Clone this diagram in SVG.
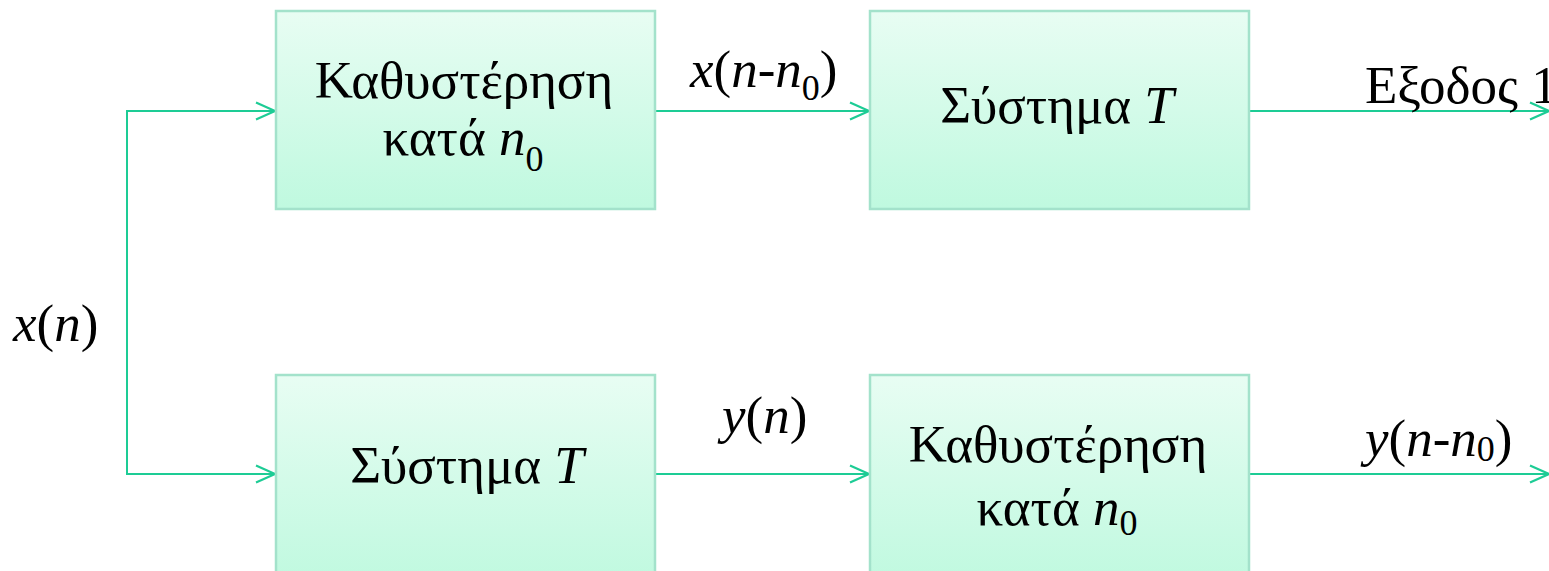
<svg xmlns="http://www.w3.org/2000/svg" width="1549" height="571" viewBox="0 0 1549 571">
<defs>
<linearGradient id="g" x1="0" y1="0" x2="0" y2="1">
<stop offset="0" stop-color="#e8fdf3"/>
<stop offset="1" stop-color="#bff9df"/>
</linearGradient>
<marker id="a" markerWidth="24" markerHeight="22" refX="21" refY="11" orient="auto" markerUnits="userSpaceOnUse">
<path d="M2,2.5 L21,11 L2,19.5" fill="none" stroke="#1dcc95" stroke-width="2.2"/>
</marker>
<style>
.box{fill:url(#g);stroke:#a3e2cb;stroke-width:2.5}
text{font-family:'Liberation Serif','DejaVu Serif',serif;fill:#000}
.t{font-size:53px;text-anchor:middle}
.l{font-size:53px}
.s{font-size:36px}
.w{fill:none;stroke:#1dcc95;stroke-width:2}
</style>
</defs>
<rect width="1549" height="571" fill="#fff"/>
<g id="connectors">
<polyline class="w" points="275,111 127,111 127,474 275,474" marker-end="url(#a)"/>
<line class="w" x1="127" y1="111" x2="275" y2="111" marker-end="url(#a)"/>
<line class="w" x1="655" y1="111" x2="869" y2="111" marker-end="url(#a)"/>
<line class="w" x1="1249" y1="111" x2="1549" y2="111" marker-end="url(#a)"/>
<line class="w" x1="655" y1="474" x2="869" y2="474" marker-end="url(#a)"/>
<line class="w" x1="1249" y1="474" x2="1549" y2="474" marker-end="url(#a)"/>
</g>
<g id="delay1">
<rect class="box" x="276" y="11" width="379" height="198"/>
<text class="t" x="464" y="98">Καθυστέρηση</text>
<text class="t" x="463" y="155">κατά <tspan font-style="italic">n</tspan><tspan class="s" dy="16">0</tspan></text>
</g>
<g id="sys1">
<rect class="box" x="870" y="11" width="379" height="198"/>
<text class="t" x="1057" y="123">Σύστημα <tspan font-style="italic">T</tspan></text>
</g>
<g id="sys2">
<rect class="box" x="276" y="375" width="379" height="210"/>
<text class="t" x="467" y="483">Σύστημα <tspan font-style="italic">T</tspan></text>
</g>
<g id="delay2">
<rect class="box" x="870" y="375" width="379" height="210"/>
<text class="t" x="1058" y="462">Καθυστέρηση</text>
<text class="t" x="1057" y="525">κατά <tspan font-style="italic">n</tspan><tspan class="s" dy="10">0</tspan></text>
</g>
<g id="labels">
<text class="l" x="13" y="341"><tspan font-style="italic">x</tspan>(<tspan font-style="italic">n</tspan>)</text>
<text class="l" x="690" y="87"><tspan font-style="italic">x</tspan>(<tspan font-style="italic">n</tspan>-<tspan font-style="italic">n</tspan><tspan class="s" dy="13">0</tspan><tspan dy="-13">)</tspan></text>
<text class="l" x="722" y="433"><tspan font-style="italic">y</tspan>(<tspan font-style="italic">n</tspan>)</text>
<text class="l" x="1365" y="456"><tspan font-style="italic">y</tspan>(<tspan font-style="italic">n</tspan>-<tspan font-style="italic">n</tspan><tspan class="s" dy="5">0</tspan><tspan dy="-5">)</tspan></text>
<text class="l" x="1365" y="103">Εξοδος 1</text>
</g>
</svg>
